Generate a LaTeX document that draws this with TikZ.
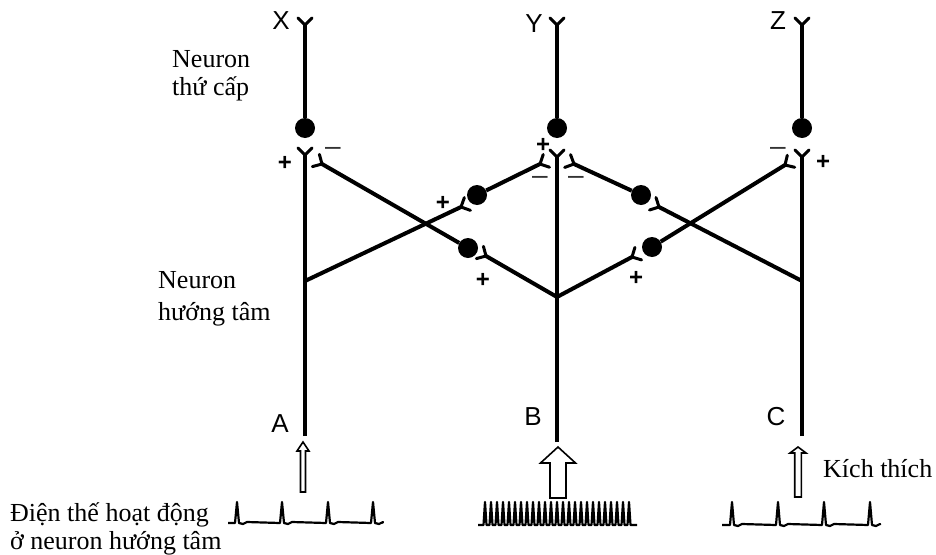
\documentclass[tikz,border=0pt]{standalone}
\usepackage{fontspec}
\setmainfont{Liberation Serif}
\newfontfamily\sansf{Liberation Sans}
\usetikzlibrary{calc}
\newcommand\termline[2]{%
  \draw[axon] (#1) -- (#2);
  \draw[forkline] let \p1=($(#2)-(#1.center)$), \n1={atan2(\y1,\x1)} in
    (#2) -- ++(\n1+45:10pt) (#2) -- ++(\n1-45:10pt);}
\begin{document}
\begin{tikzpicture}[x=1pt,y=-1pt,
  axon/.style={line width=4pt},
  forkline/.style={line width=3pt,line cap=round},
  soma/.style={circle,fill=black,minimum size=20pt,inner sep=0pt},
  lbl/.style={font=\sansf\fontsize{26}{26}\selectfont,inner sep=0pt},
  plus/.style={font=\sansf\bfseries\fontsize{24}{24}\selectfont,inner sep=0pt},
  minus/.style={font=\sansf\fontsize{28}{28}\selectfont,inner sep=0pt,text=black!80},
  txt/.style={font=\fontsize{26}{28}\selectfont,align=left,inner sep=0pt},
  blockarrow/.style={draw,line width=1.6pt,fill=white,line join=miter},
  spikes/.style={line width=2.2pt,line join=round}]

\useasboundingbox (0,0) rectangle (936,554);

% --- principal columns
\coordinate (Xtop) at (305,25);
\node[soma] (Xs) at (305,128) {};
\coordinate (Afork) at (305,155);
\coordinate (Abr) at (305,281);
\coordinate (Aend) at (305,436);

\coordinate (Ytop) at (557,25);
\node[soma] (Ys) at (557,128) {};
\coordinate (Bfork) at (557,157);
\coordinate (Bbr) at (557,297);
\coordinate (Bend) at (557,442);

\coordinate (Ztop) at (802,25);
\node[soma] (Zs) at (802,128) {};
\coordinate (Cfork) at (802,157);
\coordinate (Cbr) at (802,281);
\coordinate (Cend) at (802,436);

% --- interneurons
\node[soma] (I1) at (477,195) {};
\node[soma] (I2) at (468,248) {};
\node[soma] (I3) at (641,195) {};
\node[soma] (I4) at (652,247) {};

% --- terminals
\coordinate (tA) at (461,207);
\coordinate (tI2) at (322,164);
\coordinate (tI1) at (540,164);
\coordinate (tI3) at (574,164);
\coordinate (tBl) at (486,256);
\coordinate (tBr) at (632,257);
\coordinate (tC) at (659,207);
\coordinate (tI4) at (785,165);

% --- fibres
\termline{Xs}{Xtop}
\termline{Ys}{Ytop}
\termline{Zs}{Ztop}
\termline{Aend}{Afork}
\termline{Bend}{Bfork}
\termline{Cend}{Cfork}
\termline{Abr}{tA}
\termline{Cbr}{tC}
\termline{Bbr}{tBl}
\termline{Bbr}{tBr}
\termline{I1}{tI1}
\termline{I2}{tI2}
\termline{I3}{tI3}
\termline{I4}{tI4}

% --- letters
\node[lbl] (lX) at (281,21) {X};
\node[lbl] (lY) at (534,24) {Y};
\node[lbl] (lZ) at (778,21) {Z};
\node[lbl] (lA) at (280,424) {A};
\node[lbl] (lB) at (533,417) {B};
\node[lbl] (lC) at (776,417) {C};

% --- signs
\node[plus] (p1) at (285,163) {+};
\node[minus] (m1) at (333,151) {–};
\node[plus] (p2) at (443,203) {+};
\node[plus] (p3) at (483,280) {+};
\node[plus] (p4) at (543,145) {+};
\node[minus] (m2) at (540,180) {–};
\node[minus] (m3) at (576,180) {–};
\node[plus] (p5) at (636,278) {+};
\node[minus] (m4) at (778,151) {–};
\node[plus] (p6) at (823,162) {+};

% --- text (base anchor = baseline of last line)
\node[txt,anchor=base west] (t1) at (172,95) {Neuron\\thứ cấp};
\node[txt,anchor=base west,font=\fontsize{26}{32}\selectfont] (t2) at (158,320) {Neuron\\hướng tâm};
\node[txt,anchor=base west] (t3) at (10,549) {Điện thế hoạt động\\ở neuron hướng tâm};
\node[txt,anchor=base west] (t4) at (823,477) {Kích thích};

% --- stimulus arrows
\draw[blockarrow] (303,442) -- (309,451) -- (305.5,451) -- (305.5,492) -- (300.5,492) -- (300.5,451) -- (297,451) -- cycle;
\draw[blockarrow] (558,447) -- (575.5,463) -- (566,463) -- (566,498) -- (550,498) -- (550,463) -- (540.5,463) -- cycle;
\draw[blockarrow] (798,447) -- (806,453) -- (801.3,453) -- (801.3,497) -- (794.7,497) -- (794.7,453) -- (790,453) -- cycle;

% --- spike trains
\draw[spikes] (228,523) foreach \s in {237,282,328,373} { -- ({\s-2},523) -- (\s,502) -- ({\s+2},523) -- ({\s+6},524) -- ({\s+10},522)} -- (382,523);
\draw[spikes] (478,525) foreach \s in {485,491,...,629} { -- ({\s-1.5},525) -- (\s,502) -- ({\s+1.5},525) } -- (637,525);
\draw[spikes] (722,525) foreach \s in {732,778,824,870} { -- ({\s-2},525) -- (\s,502) -- ({\s+2},525) -- ({\s+6},526) -- ({\s+10},524)} -- (880,525);
\end{tikzpicture}
\end{document}
